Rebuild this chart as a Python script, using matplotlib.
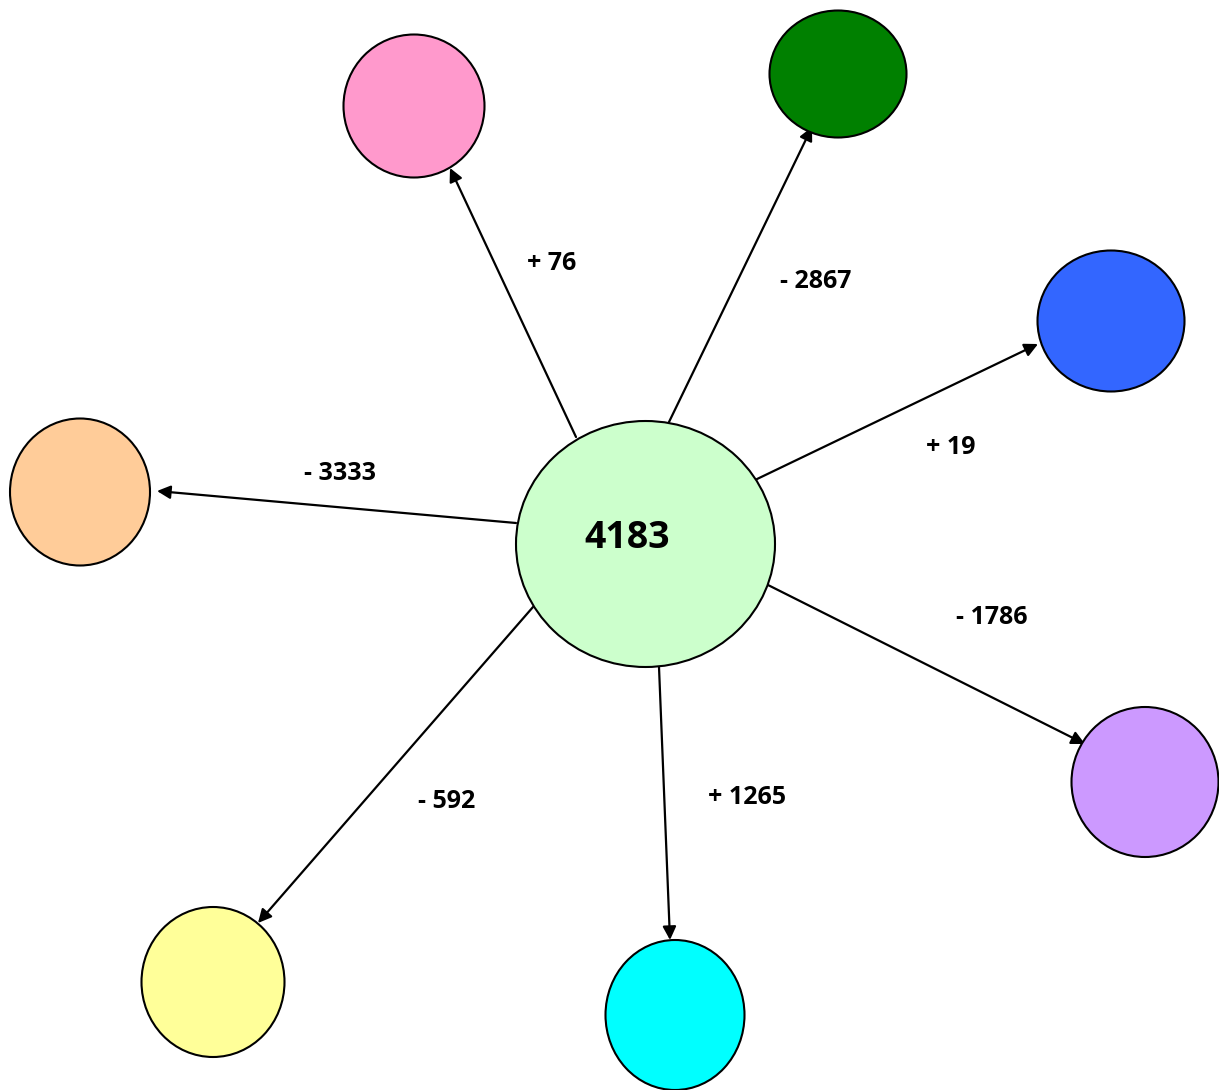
import matplotlib
matplotlib.use("Agg")
import matplotlib.pyplot as plt
from matplotlib.patches import Ellipse

# ---- data ----
center_value = 4183
changes = ["+ 76", "- 2867", "+ 19", "- 3333", "- 1786", "+ 1265", "- 592"]
node_colors = ["#FF99CC", "#008000", "#3366FF", "#FFCC99", "#CC99FF", "#00FFFF", "#FFFF99"]

# ---- layout (pixel coordinates) ----
center_xy = (645.5, 544)
center_wh = (259, 246)
node_xy = [(414, 106), (838, 74), (1111, 321), (80, 492), (1145, 782), (675, 1015), (213, 982)]
node_wh = [(141, 143), (137, 127), (147, 141), (140, 147), (147, 150), (139, 150), (143, 150)]
arrow_start = [(576, 437), (669, 422), (755, 480), (516, 523), (768, 585), (659, 667), (533, 607)]
arrow_end = [(450, 168), (812, 127), (1038, 344), (157, 491), (1085, 744), (670, 940), (258, 923)]
label_xy = [(552, 264), (816, 281), (951, 448), (340, 474), (992, 618), (747, 797), (447, 801)]

W, H = 1219, 1090
fig = plt.figure(figsize=(W / 100, H / 100), dpi=100)
ax = fig.add_axes([0, 0, 1, 1])
ax.set_xlim(0, W)
ax.set_ylim(H, 0)
ax.set_aspect("equal")
ax.axis("off")

font = ["Open Sans", "DejaVu Sans"]

ax.add_patch(Ellipse(center_xy, center_wh[0], center_wh[1], facecolor="#CCFFCC",
                     edgecolor="black", lw=1.5, zorder=3))
ax.text(627, 538, str(center_value), ha="center", va="center", fontsize=27,
        fontweight="bold", family=font, zorder=4)

for (x, y), (w, h), c in zip(node_xy, node_wh, node_colors):
    ax.add_patch(Ellipse((x, y), w, h, facecolor=c, edgecolor="black", lw=1.5, zorder=3))

for s, e in zip(arrow_start, arrow_end):
    ax.annotate("", xy=e, xytext=s,
                arrowprops=dict(arrowstyle="-|>", color="black", lw=1.6,
                                mutation_scale=20, shrinkA=0, shrinkB=0),
                zorder=2)

for (x, y), t in zip(label_xy, changes):
    ax.text(x, y, t, ha="center", va="center", fontsize=18, fontweight="bold",
            family=font, zorder=4)

fig.savefig("out.png", dpi=100, facecolor="white")
